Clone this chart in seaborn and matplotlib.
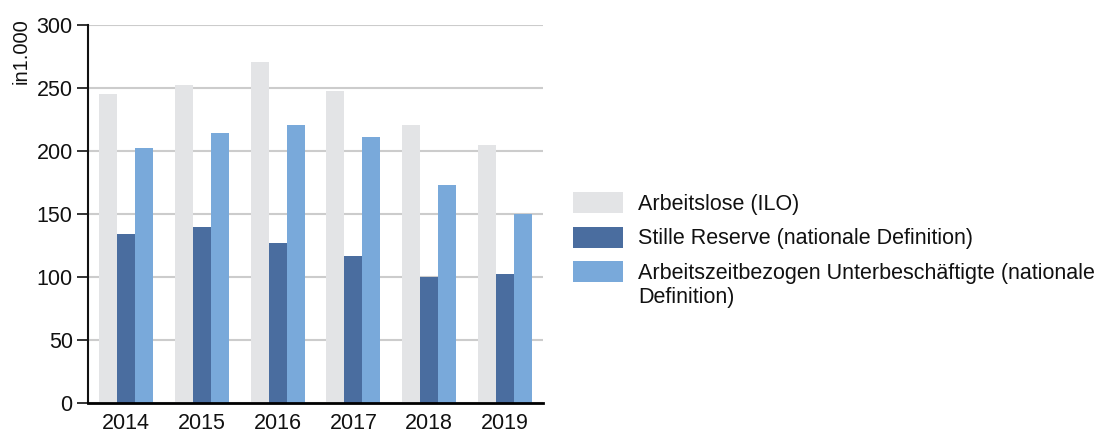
import matplotlib
matplotlib.use("Agg")
import matplotlib.pyplot as plt
import seaborn as sns
import pandas as pd
from matplotlib.patches import Patch

years = ["2014", "2015", "2016", "2017", "2018", "2019"]
series_names = [
    "Arbeitslose (ILO)",
    "Stille Reserve (nationale Definition)",
    "Arbeitszeitbezogen Unterbeschäftigte (nationale Definition)",
]
legend_lines = [
    ["Arbeitslose (ILO)"],
    ["Stille Reserve (nationale Definition)"],
    ["Arbeitszeitbezogen Unterbeschäftigte (nationale", "Definition)"],
]
arbeitslose = [245, 252, 271, 248, 221, 205]
stille_reserve = [134, 140, 127, 117, 100, 102]
unterbeschaeftigte = [202, 214, 221, 211, 173, 150]
y_ticks = [0, 50, 100, 150, 200, 250, 300]
y_label = "in1.000"
colors = ["#e3e4e6", "#4a6d9f", "#79a9da"]

rows = []
for name, vals in zip(series_names, [arbeitslose, stille_reserve, unterbeschaeftigte]):
    for y, v in zip(years, vals):
        rows.append({"Jahr": y, "Serie": name, "Wert": v})
df = pd.DataFrame(rows)

sns.set_theme(style="white")
plt.rcParams["font.family"] = ["Liberation Sans", "DejaVu Sans"]

FS = 15.5
fig = plt.figure(figsize=(10.94, 4.33), dpi=100)
ax = fig.add_axes([88 / 1094, 1 - 403 / 433, 455 / 1094, 378 / 433])

sns.barplot(data=df, x="Jahr", y="Wert", hue="Serie", hue_order=series_names,
            order=years, palette=colors, saturation=1, width=0.71, gap=0,
            linewidth=0, ax=ax, legend=False, errorbar=None)

ax.set_xlim(-0.5, 5.5)
ax.set_ylim(0, 300)
ax.set_yticks(y_ticks)
ax.yaxis.grid(True, color="#cccccc", linewidth=1.5)
ax.set_axisbelow(True)
for s in ["top", "right"]:
    ax.spines[s].set_visible(False)
ax.spines["left"].set_color("#111111")
ax.spines["left"].set_linewidth(1.5)
ax.spines["bottom"].set_color("#000000")
ax.spines["bottom"].set_linewidth(2)
ax.spines["bottom"].set_zorder(5)
ax.tick_params(axis="y", which="major", left=True, length=8, width=1.2,
               color="#111111", labelsize=FS, pad=3, labelcolor="#111111")
ax.tick_params(axis="x", length=0, labelsize=FS, pad=7, labelcolor="#111111")
ax.set_xlabel("")
ax.set_ylabel(y_label, fontsize=14.5, color="#111111")
ax.yaxis.set_label_coords(-0.125, 0.93)

# Legend: one row per series; wrapped second line of the last label as text
handles = [Patch(facecolor=c, edgecolor="none") for c in colors]
labels = [l[0] for l in legend_lines]
leg = fig.legend(handles, labels, loc="upper left",
                 bbox_to_anchor=(573 / 1094, 1 - 192 / 433), frameon=False,
                 fontsize=FS, handlelength=2.33, handleheight=1.12,
                 handletextpad=0.7, labelspacing=0.55, borderaxespad=0,
                 borderpad=0)
for t in leg.get_texts():
    t.set_color("#111111")
fig.text(638 / 1094, 1 - 297 / 433, legend_lines[2][1], fontsize=FS,
         color="#111111", ha="left", va="center")

fig.savefig("out.png", dpi=100)
